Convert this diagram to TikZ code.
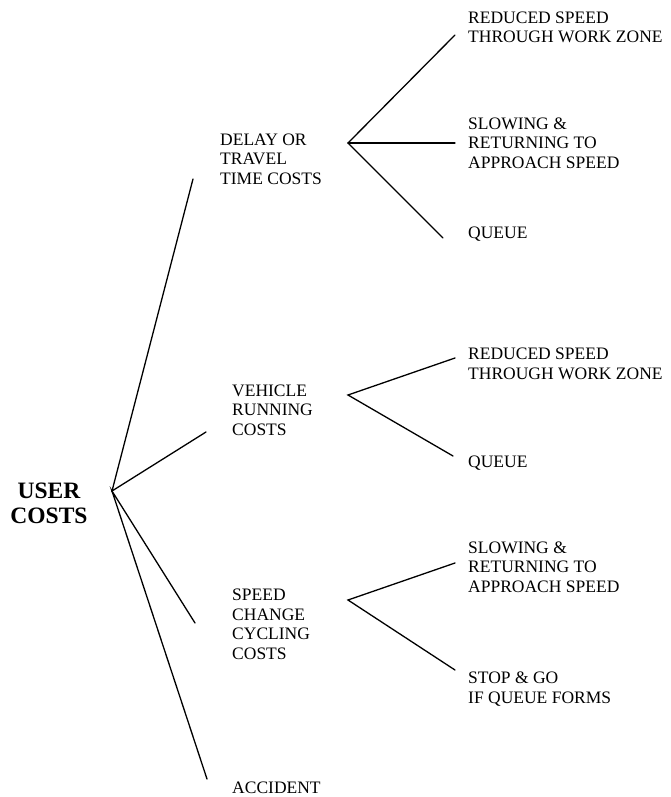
\documentclass[tikz,border=0pt]{standalone}
\usepackage{fontspec}
\setmainfont{Liberation Serif}
\usepackage{tikz}

\begin{document}
\begin{tikzpicture}[
  x=1pt, y=-1pt,
  leaf/.style={
    anchor=base west, inner sep=0pt, align=left,
    font=\fontsize{17.5}{19.5}\selectfont
  },
  rootlabel/.style={
    anchor=base, inner sep=0pt, align=center,
    font=\fontsize{23.5}{25}\selectfont\bfseries
  },
  branch/.style={line width=1.3pt, line cap=round}
]
\useasboundingbox (0,0) rectangle (671,797);

% labels sit on the baseline of their last line
\node[rootlabel] (user) at (49,523) {USER\\COSTS};

\node[leaf] (delay)    at (220,184) {DELAY OR\\TRAVEL\\TIME COSTS};
\node[leaf] (vehicle)  at (232,435) {VEHICLE\\RUNNING\\COSTS};
\node[leaf] (speedchg) at (232,659) {SPEED\\CHANGE\\CYCLING\\COSTS};
\node[leaf] (accident) at (232,793) {ACCIDENT};

\node[leaf] (delay-rs)    at (468,43)  {REDUCED SPEED\\THROUGH WORK ZONE};
\node[leaf] (delay-slow)  at (468,168) {SLOWING \&\\RETURNING TO\\APPROACH SPEED};
\node[leaf] (delay-queue) at (468,238) {QUEUE};

\node[leaf] (veh-rs)    at (468,379) {REDUCED SPEED\\THROUGH WORK ZONE};
\node[leaf] (veh-queue) at (468,467) {QUEUE};

\node[leaf] (spd-slow) at (468,592) {SLOWING \&\\RETURNING TO\\APPROACH SPEED};
\node[leaf] (spd-stop) at (468,703) {STOP \& GO\\IF QUEUE FORMS};

% branching points
\coordinate (user-apex)  at (112,491);
\coordinate (delay-apex) at (348,143);
\coordinate (veh-apex)   at (348,395);
\coordinate (spd-apex)   at (348,600);

% line ends in front of the labels
\coordinate (delay-in)    at (193,179);
\coordinate (veh-in)      at (206,432);
\coordinate (spd-in)      at (195,623);
\coordinate (acc-in)      at (207,779);
\coordinate (delay-rs-in)    at (455,35);
\coordinate (delay-slow-in)  at (455,143);
\coordinate (delay-queue-in) at (443,238);
\coordinate (veh-rs-in)      at (455,358);
\coordinate (veh-queue-in)   at (453,456);
\coordinate (spd-slow-in)    at (455,563);
\coordinate (spd-stop-in)    at (455,670);

\draw[branch] (delay-in) -- (user-apex) -- (veh-in);
\draw[branch] (spd-in) -- (user-apex) -- (acc-in);

\draw[branch] (delay-rs-in) -- (delay-apex) -- (delay-queue-in);
\draw[branch] (delay-apex) -- (delay-slow-in);
\draw[branch] (veh-rs-in) -- (veh-apex) -- (veh-queue-in);
\draw[branch] (spd-slow-in) -- (spd-apex) -- (spd-stop-in);
\end{tikzpicture}
\end{document}
